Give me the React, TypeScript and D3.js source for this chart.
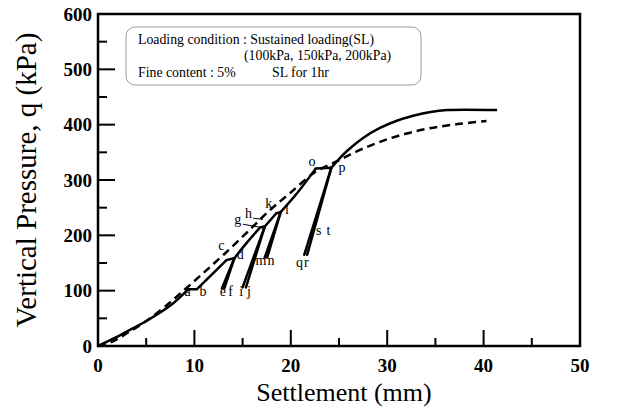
import React from "react";
import * as d3 from "d3";

// ---------- data ----------
const xTicks = [0, 10, 20, 30, 40, 50];
const yTicks = [0, 100, 200, 300, 400, 500, 600];

// solid curve pieces (settlement mm, pressure kPa)
const loadOA = [[0, 0], [1.8, 15], [3.5, 31], [5.2, 47], [7.5, 73], [9.34, 102.5]];
const holdAB = [[9.34, 102.5], [10.24, 102.5]];
const loadBC = [[10.24, 102.5], [11.8, 129], [13.35, 155.5]];
const holdCD = [[13.35, 155.5], [14.14, 158.5]];
const unloadDE = [[14.14, 158.5], [12.85, 104]];
const reloadFD = [[13.1, 104], [14.14, 158.5]];
const loadDG = [[14.14, 158.5], [15.4, 186], [16.8, 214]];
const holdGH = [[16.8, 214], [17.3, 216]];
const unloadHI = [[17.3, 216], [15.0, 106]];
const reloadJH = [[15.35, 106], [17.3, 216]];
const loadHK = [[17.3, 216], [18.5, 240]];
const holdKL = [[18.5, 240], [18.95, 242]];
const unloadLM = [[18.95, 242], [17.3, 160]];
const reloadNL = [[17.55, 160], [18.95, 242]];
const loadLO = [[18.95, 242], [20.6, 275], [22.6, 321]];
const holdOP = [[22.6, 321], [24.2, 322]];
const unloadPQ = [[24.2, 322], [21.4, 165]];
const reloadRP = [[21.7, 165], [24.2, 322]];
const loadPEnd = [[24.2, 322], [24.9, 336], [25.8, 352], [27.5, 376], [29.25, 394], [31, 407], [32.7, 416], [34.5, 423], [36.2, 426.5], [41.4, 426.5]];

// dashed reference curve
const dashedCurve = [[0, 0], [1.5, 8], [3, 23], [5, 45], [7, 72], [9, 102], [11, 133], [13, 164.5], [15.5, 206], [17.8, 245], [19.9, 276], [22.5, 314], [24.8, 334], [27, 353], [29.25, 369], [31.8, 383], [34.4, 393.5], [37.3, 401], [40.3, 406.6]];

const pointLabels = [
  { t: "a", x: 9.3, y: 91 }, { t: "b", x: 10.9, y: 91 },
  { t: "c", x: 12.8, y: 173 }, { t: "d", x: 14.75, y: 158 },
  { t: "e", x: 12.95, y: 91 }, { t: "f", x: 13.75, y: 91 },
  { t: "i", x: 14.85, y: 91 }, { t: "j", x: 15.65, y: 91 },
  { t: "g", x: 14.5, y: 220 }, { t: "h", x: 15.6, y: 232 },
  { t: "k", x: 17.7, y: 249 }, { t: "l", x: 19.6, y: 239 },
  { t: "m", x: 16.9, y: 146 }, { t: "n", x: 17.95, y: 146 },
  { t: "o", x: 22.2, y: 325 }, { t: "p", x: 25.3, y: 315 },
  { t: "q", x: 20.9, y: 143 }, { t: "r", x: 21.6, y: 143 },
  { t: "s", x: 22.9, y: 201 }, { t: "t", x: 23.9, y: 201 },
];

const legendLines = [
  "Loading condition : Sustained loading(SL)",
  "(100kPa, 150kPa, 200kPa)",
  "Fine content : 5%",
  "SL for 1hr",
];

// ---------- layout ----------
const W = 621, H = 412;
const L = 98, R = 580, T = 14, B = 346;

export default function App() {
  const x = d3.scaleLinear().domain([0, 50]).range([L, R]);
  const y = d3.scaleLinear().domain([0, 600]).range([B, T]);
  const curved = d3.line<number[]>().x(d => x(d[0])).y(d => y(d[1])).curve(d3.curveCatmullRom.alpha(0.5));
  const straight = d3.line<number[]>().x(d => x(d[0])).y(d => y(d[1]));

  const curvedSegs = [loadOA, loadBC, loadDG, loadLO, loadPEnd];
  const straightSegs = [holdAB, holdCD, unloadDE, reloadFD, holdGH, unloadHI, reloadJH, loadHK, holdKL, unloadLM, reloadNL, holdOP, unloadPQ, reloadRP];

  const xMinor = d3.range(5, 50, 10);
  const yMinor = d3.range(50, 600, 100);
  const serif = "'Liberation Serif', 'Times New Roman', serif";

  return (
    <svg width={W} height={H} style={{ position: "absolute", left: 0, top: 0, background: "#fff" }} fontFamily={serif}>
      {/* frame */}
      <rect x={L} y={T} width={R - L} height={B - T} fill="none" stroke="#000" strokeWidth={2.5} />
      {/* ticks */}
      {xTicks.slice(1, -1).map(t => (
        <line key={"xt" + t} x1={x(t)} x2={x(t)} y1={B} y2={B - 16} stroke="#000" strokeWidth={2} />
      ))}
      {xMinor.map(t => (
        <line key={"xm" + t} x1={x(t)} x2={x(t)} y1={B} y2={B - 8} stroke="#000" strokeWidth={2} />
      ))}
      {yTicks.slice(1, -1).map(t => (
        <line key={"yt" + t} x1={L} x2={L + 17} y1={y(t)} y2={y(t)} stroke="#000" strokeWidth={2} />
      ))}
      {yMinor.map(t => (
        <line key={"ym" + t} x1={L} x2={L + 9} y1={y(t)} y2={y(t)} stroke="#000" strokeWidth={2} />
      ))}
      {/* tick labels */}
      {xTicks.map(t => (
        <text key={"xl" + t} x={x(t)} y={B + 26} textAnchor="middle" fontWeight="bold" fontSize={19}>{t}</text>
      ))}
      {yTicks.map(t => (
        <text key={"yl" + t} x={L - 6} y={y(t) + 6.5} textAnchor="end" fontWeight="bold" fontSize={19}>{t}</text>
      ))}
      {/* axis titles */}
      <text x={344} y={401} textAnchor="middle" fontSize={26}>Settlement (mm)</text>
      <text transform={`translate(36,${(T + B) / 2}) rotate(-90)`} textAnchor="middle" fontSize={29}>Vertical Pressure, q (kPa)</text>

      {/* legend */}
      <rect x={126} y={27} width={295} height={58} rx={9} fill="#fff" stroke="#999" strokeWidth={1} />
      <text x={138} y={44} fontSize={13.8}>{legendLines[0]}</text>
      <text x={244} y={60} fontSize={13.8}>{legendLines[1]}</text>
      <text x={138} y={77} fontSize={13.8}>{legendLines[2]}</text>
      <text x={272} y={77} fontSize={13.8}>{legendLines[3]}</text>

      {/* dashed */}
      <path d={curved(dashedCurve) || ""} fill="none" stroke="#000" strokeWidth={2.5} strokeDasharray="8,5" />
      {/* solid */}
      {curvedSegs.map((s, i) => (
        <path key={"c" + i} d={curved(s) || ""} fill="none" stroke="#000" strokeWidth={2.5} strokeLinejoin="round" />
      ))}
      {straightSegs.map((s, i) => (
        <path key={"s" + i} d={straight(s) || ""} fill="none" stroke="#000" strokeWidth={2.5} strokeLinecap="round" />
      ))}
      {/* g arrow and h leader */}
      <line x1={x(15.05)} y1={y(220)} x2={x(16.7)} y2={y(215)} stroke="#000" strokeWidth={1} />
      <line x1={x(16.1)} y1={y(231)} x2={x(17.1)} y2={y(229)} stroke="#000" strokeWidth={1} />

      {pointLabels.map((p, i) => (
        <text key={"p" + i} x={x(p.x)} y={y(p.y)} textAnchor="middle" fontSize={14}>{p.t}</text>
      ))}
    </svg>
  );
}
